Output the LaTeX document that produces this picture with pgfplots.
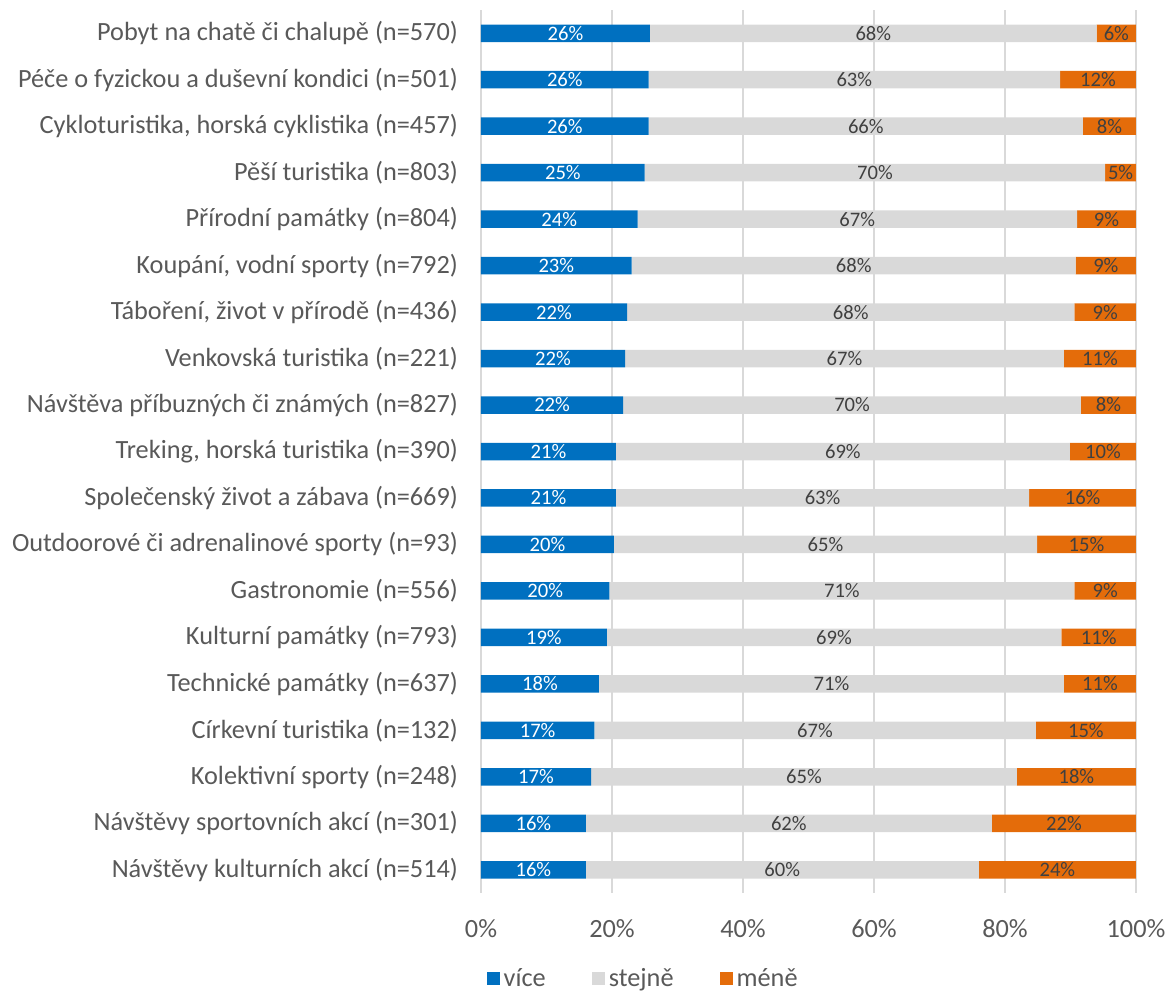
\documentclass[border=0pt]{standalone}
\usepackage{pgfplots}
\pgfplotsset{compat=1.18}
\usepackage{pgfplotstable}
\usepackage{fontspec}
\setmainfont{Carlito}
\definecolor{cblue}{HTML}{0070C0}
\definecolor{cgray}{HTML}{D9D9D9}
\definecolor{corange}{HTML}{E46C0A}
\definecolor{ctext}{HTML}{595959}
\definecolor{clab}{HTML}{404040}

\pgfplotstableread{
idx a b c la lb lc
0 25.8 68.2 6.0 26 68 6
1 25.6 62.8 11.6 26 63 12
2 25.6 66.3 8.1 26 66 8
3 25.0 70.3 4.7 25 70 5
4 23.9 67.1 9.0 24 67 9
5 23.0 67.8 9.2 23 68 9
6 22.3 68.3 9.4 22 68 9
7 22.0 67.0 11.0 22 67 11
8 21.7 69.9 8.4 22 70 8
9 20.6 69.3 10.1 21 69 10
10 20.6 63.1 16.3 21 63 16
11 20.3 64.6 15.1 20 65 15
12 19.6 71.0 9.4 20 71 9
13 19.2 69.4 11.4 19 69 11
14 18.0 71.0 11.0 18 71 11
15 17.3 67.4 15.3 17 67 15
16 16.8 65.0 18.2 17 65 18
17 16.0 62.0 22.0 16 62 22
18 16.0 60.0 24.0 16 60 24
}\data

\pgfplotsset{dims/.style={
  at={(0,0)}, anchor=south west,
  scale only axis, width=327.5pt, height=441.5pt,
  xmin=0, xmax=100, ymin=-0.5, ymax=18.5, y dir=reverse}}

\begin{document}
\begin{tikzpicture}[x=1pt,y=1pt]
\useasboundingbox (-240.5,-50) rectangle (343.5,446.5);
\begin{axis}[dims,
  xbar stacked, bar width=8.75pt,
  axis line style={draw=none},
  major tick length=0pt,
  xtick={0,20,...,100}, xticklabels={0\%,20\%,40\%,60\%,80\%,100\%},
  ytick={0,...,18},
  yticklabels={
    Pobyt na chatě či chalupě (n=570),
    Péče o fyzickou a duševní kondici (n=501),
    {Cykloturistika, horská cyklistika (n=457)},
    Pěší turistika (n=803),
    Přírodní památky (n=804),
    {Koupání, vodní sporty (n=792)},
    {Táboření, život v přírodě (n=436)},
    Venkovská turistika (n=221),
    Návštěva příbuzných či známých (n=827),
    {Treking, horská turistika (n=390)},
    Společenský život a zábava (n=669),
    Outdoorové či adrenalinové sporty (n=93),
    Gastronomie (n=556),
    Kulturní památky (n=793),
    Technické památky (n=637),
    Církevní turistika (n=132),
    Kolektivní sporty (n=248),
    Návštěvy sportovních akcí (n=301),
    Návštěvy kulturních akcí (n=514)},
  xmajorgrids, major grid style={color=cgray, line width=1pt},
  tick label style={font=\fontsize{13.15}{15}\selectfont, color=ctext},
  xticklabel style={yshift=-9.5pt},
  yticklabel style={xshift=-8pt},
  legend columns=-1,
  legend style={draw=none, fill=none, inner sep=1pt, at={(0.005,-0.097)}, anchor=west,
    font=\fontsize{13.15}{15}\selectfont, text=ctext,
    /tikz/every even column/.append style={column sep=21pt}},
  legend image code/.code={\fill[#1] (0pt,-3.25pt) rectangle (6.5pt,3.25pt);},
]
\addplot[fill=cblue, draw=none] table[x=a,y=idx]{\data};
\addplot[fill=cgray, draw=none] table[x=b,y=idx]{\data};
\addplot[fill=corange, draw=none] table[x=c,y=idx]{\data};
\legend{více, stejně, méně}
\end{axis}
\begin{axis}[dims, hide axis]
\addplot[draw=none, mark=none, nodes near coords={\pgfplotspointmeta\%}, point meta=explicit symbolic,
  every node near coord/.style={anchor=center, font=\fontsize{10.3}{12}\selectfont, color=white}]
  table[x expr=\thisrow{a}/2, y=idx, meta=la]{\data};
\addplot[draw=none, mark=none, nodes near coords={\pgfplotspointmeta\%}, point meta=explicit symbolic,
  every node near coord/.style={anchor=center, font=\fontsize{10.3}{12}\selectfont, color=clab}]
  table[x expr=\thisrow{a}+\thisrow{b}/2, y=idx, meta=lb]{\data};
\addplot[draw=none, mark=none, nodes near coords={\pgfplotspointmeta\%}, point meta=explicit symbolic,
  every node near coord/.style={anchor=center, font=\fontsize{10.3}{12}\selectfont, color=clab}]
  table[x expr=\thisrow{a}+\thisrow{b}+\thisrow{c}/2, y=idx, meta=lc]{\data};
\end{axis}
\end{tikzpicture}
\end{document}
